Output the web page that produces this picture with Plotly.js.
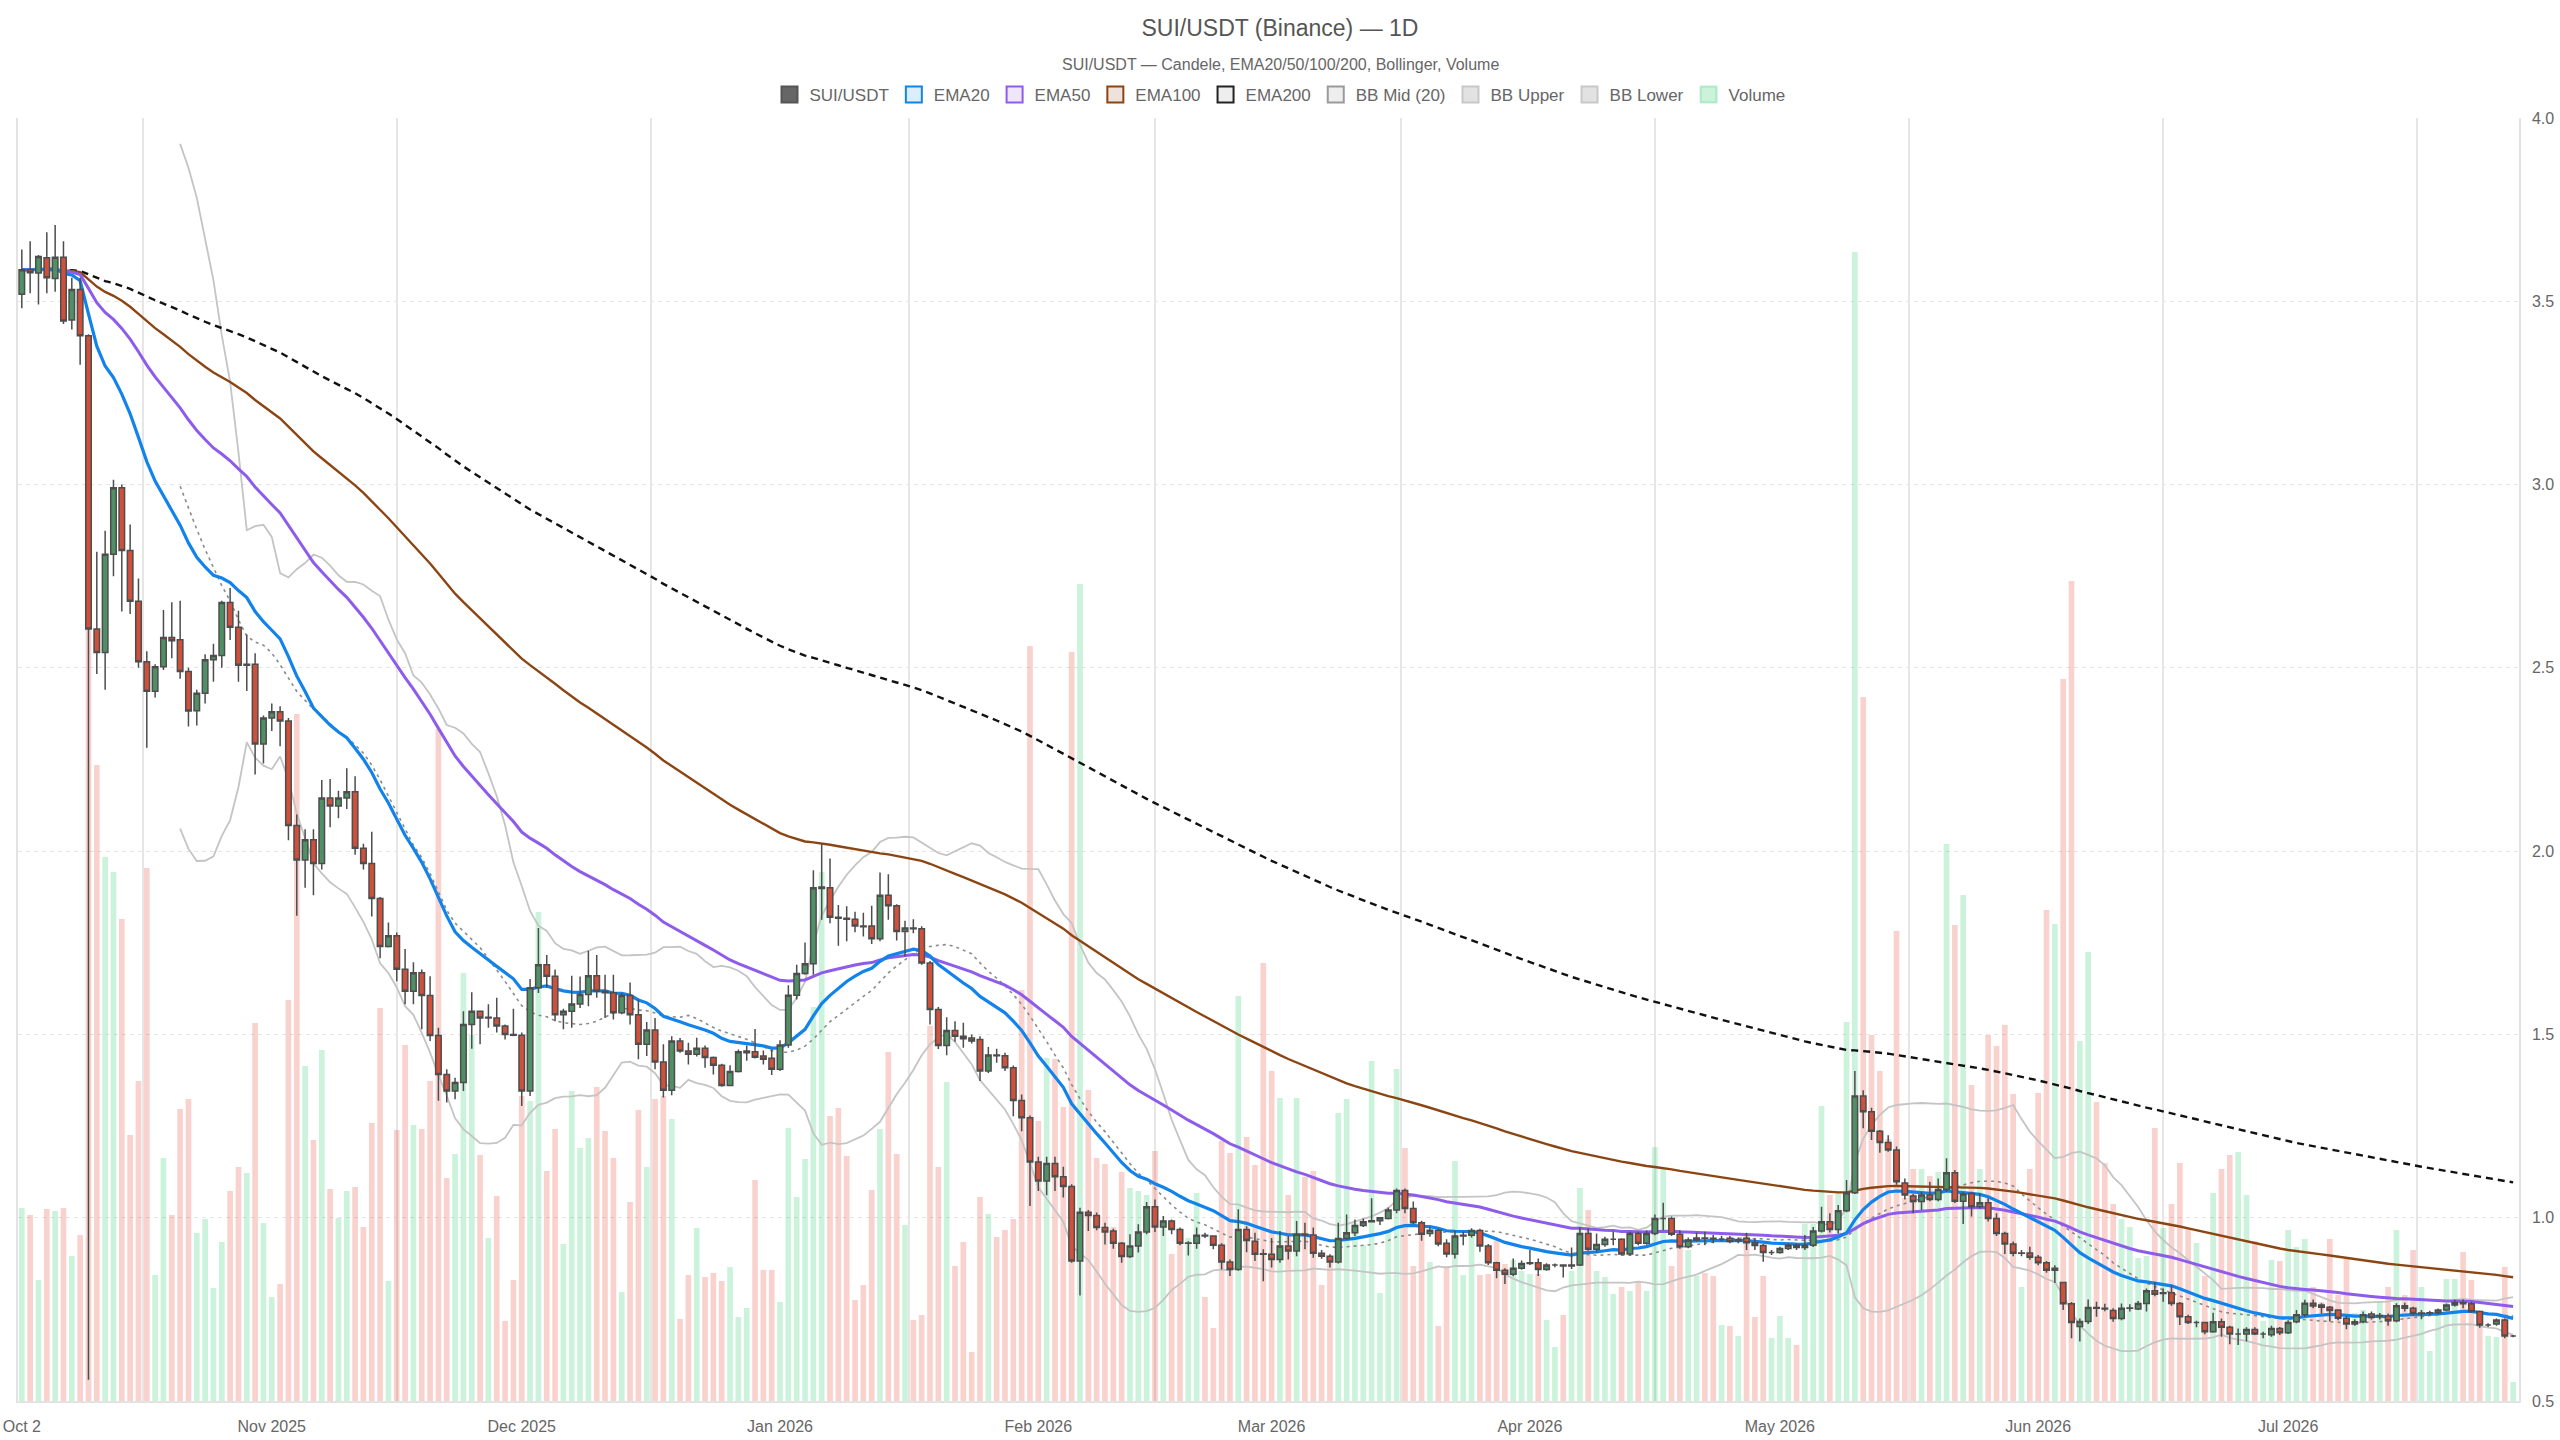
<!DOCTYPE html>
<html>
<head>
<meta charset="utf-8">
<script src="https://cdn.plot.ly/plotly-3.0.1.min.js"></script>
<style>
  html, body { margin: 0; padding: 0; background: #fff; }
  #chart { width: 2560px; height: 1440px; }
</style>
</head>
<body>
<div id="chart"></div>
<script>
// SUI/USDT daily candles, Oct 2 2025 -> Jul 28 2026
const START_DATE = "2025-10-02"

const OPEN = [
  3.519,3.586,3.577,3.619,3.562,3.620,3.449,3.532,3.406,2.606,
  2.542,2.810,2.991,2.820,2.682,2.517,2.436,2.503,2.583,2.577,
  2.490,2.383,2.431,2.522,2.534,2.678,2.611,2.507,2.510,2.292,
  2.363,2.380,2.355,2.070,1.976,2.031,1.966,2.145,2.123,2.145,
  2.162,2.008,1.966,1.871,1.740,1.769,1.678,1.618,1.668,1.606,
  1.497,1.391,1.346,1.369,1.527,1.563,1.545,1.545,1.523,1.500,
  1.498,1.346,1.627,1.690,1.659,1.554,1.563,1.583,1.609,1.660,
  1.618,1.614,1.559,1.606,1.554,1.473,1.512,1.425,1.348,1.482,
  1.455,1.446,1.462,1.437,1.416,1.361,1.399,1.450,1.453,1.441,
  1.435,1.405,1.471,1.607,1.666,1.693,1.898,1.900,1.820,1.817,
  1.814,1.796,1.796,1.761,1.880,1.851,1.781,1.790,1.788,1.695,
  1.568,1.470,1.511,1.495,1.490,1.486,1.400,1.444,1.442,1.409,
  1.320,1.273,1.152,1.100,1.148,1.112,1.085,0.882,1.015,1.006,
  0.973,0.964,0.930,0.894,0.923,0.961,1.030,0.975,0.991,0.968,
  0.930,0.930,0.952,0.950,0.925,0.879,0.859,0.968,0.936,0.902,
  0.900,0.886,0.923,0.909,0.955,0.953,0.903,0.895,0.879,0.943,
  0.959,0.979,0.989,0.992,0.998,1.021,1.074,1.025,0.986,0.957,
  0.966,0.930,0.901,0.950,0.952,0.965,0.923,0.877,0.857,0.846,
  0.862,0.875,0.877,0.859,0.871,0.871,0.868,0.871,0.957,0.914,
  0.927,0.941,0.941,0.901,0.957,0.930,0.957,0.998,0.998,0.955,
  0.921,0.939,0.945,0.944,0.942,0.944,0.937,0.944,0.932,0.924,
  0.905,0.905,0.916,0.925,0.919,0.925,0.964,0.989,0.968,1.019,
  1.068,1.332,1.289,1.236,1.205,1.185,1.095,1.059,1.044,1.062,
  1.050,1.077,1.123,1.045,1.066,1.030,1.041,0.998,0.957,0.928,
  0.903,0.904,0.892,0.877,0.857,0.823,0.765,0.703,0.717,0.755,
  0.753,0.747,0.725,0.753,0.751,0.766,0.801,0.793,0.795,0.766,
  0.730,0.714,0.714,0.689,0.716,0.701,0.683,0.683,0.695,0.683,
  0.681,0.698,0.686,0.716,0.735,0.767,0.762,0.756,0.748,0.726,
  0.710,0.716,0.737,0.732,0.732,0.719,0.760,0.753,0.739,0.740,
  0.741,0.748,0.762,0.769,0.765,0.744,0.707,0.710,0.721,0.677
]

const HIGH = [
  3.641,3.664,3.626,3.688,3.708,3.664,3.564,3.564,3.410,2.817,
  2.874,3.013,3.000,2.891,2.744,2.545,2.510,2.658,2.679,2.683,
  2.500,2.440,2.537,2.566,2.683,2.718,2.656,2.591,2.540,2.370,
  2.403,2.395,2.363,2.100,2.060,2.060,2.194,2.197,2.165,2.226,
  2.204,2.020,2.053,1.875,1.805,1.778,1.733,1.697,1.677,1.659,
  1.518,1.405,1.382,1.563,1.615,1.565,1.582,1.600,1.527,1.570,
  1.505,1.651,1.790,1.717,1.677,1.570,1.660,1.658,1.728,1.717,
  1.663,1.663,1.613,1.642,1.595,1.534,1.545,1.473,1.495,1.490,
  1.477,1.491,1.470,1.440,1.420,1.416,1.459,1.470,1.515,1.456,
  1.459,1.484,1.634,1.690,1.751,1.948,2.021,1.980,1.853,1.850,
  1.835,1.832,1.851,1.942,1.937,1.855,1.810,1.814,1.795,1.700,
  1.575,1.547,1.536,1.532,1.500,1.495,1.466,1.461,1.450,1.415,
  1.336,1.279,1.166,1.166,1.166,1.139,1.091,1.027,1.021,1.014,
  0.986,0.970,0.934,0.955,0.982,1.043,1.050,1.005,0.995,0.973,
  0.936,0.973,0.959,0.952,0.930,0.886,1.023,0.977,0.959,0.914,
  0.945,0.964,0.950,0.991,0.986,0.973,0.912,0.900,0.986,1.009,
  0.995,0.998,1.053,1.002,1.028,1.080,1.080,1.044,0.992,0.974,
  0.970,0.941,0.965,0.962,0.971,0.970,0.928,0.880,0.862,0.889,
  0.883,0.912,0.889,0.876,0.875,0.871,0.919,0.975,0.971,0.957,
  0.948,0.962,0.944,0.962,0.962,0.966,1.009,1.041,1.003,0.966,
  0.946,0.959,0.962,0.953,0.951,0.950,0.946,0.959,0.944,0.928,
  0.912,0.921,0.930,0.930,0.953,0.975,1.030,1.012,1.035,1.103,
  1.400,1.348,1.300,1.239,1.225,1.194,1.107,1.065,1.070,1.098,
  1.107,1.162,1.130,1.070,1.071,1.066,1.053,1.012,0.962,0.935,
  0.912,0.921,0.898,0.882,0.870,0.825,0.770,0.725,0.777,0.771,
  0.765,0.753,0.766,0.764,0.773,0.807,0.825,0.807,0.816,0.770,
  0.735,0.719,0.716,0.741,0.725,0.705,0.698,0.701,0.701,0.689,
  0.705,0.702,0.720,0.748,0.776,0.777,0.767,0.759,0.750,0.732,
  0.723,0.744,0.744,0.740,0.739,0.767,0.768,0.757,0.748,0.746,
  0.752,0.766,0.776,0.777,0.771,0.747,0.712,0.725,0.725,0.680
]

const LOW = [
  3.481,3.522,3.491,3.522,3.526,3.438,3.423,3.327,0.558,2.483,
  2.440,2.750,2.654,2.647,2.500,2.282,2.419,2.494,2.526,2.470,
  2.340,2.343,2.403,2.462,2.500,2.576,2.462,2.437,2.209,2.239,
  2.328,2.286,2.030,1.824,1.900,1.880,1.950,2.065,2.090,2.115,
  1.990,1.950,1.822,1.708,1.737,1.645,1.582,1.582,1.514,1.482,
  1.319,1.314,1.323,1.346,1.461,1.473,1.518,1.505,1.486,1.495,
  1.305,1.332,1.613,1.627,1.536,1.514,1.518,1.572,1.577,1.600,
  1.545,1.541,1.555,1.527,1.432,1.441,1.405,1.328,1.334,1.450,
  1.418,1.440,1.409,1.391,1.357,1.359,1.396,1.428,1.434,1.418,
  1.389,1.400,1.464,1.595,1.663,1.663,1.813,1.803,1.742,1.754,
  1.779,1.767,1.747,1.754,1.813,1.756,1.713,1.776,1.690,1.527,
  1.460,1.443,1.480,1.464,1.475,1.373,1.395,1.423,1.400,1.277,
  1.236,1.032,1.073,1.061,1.073,1.055,0.877,0.788,0.964,0.966,
  0.927,0.915,0.877,0.890,0.905,0.955,0.961,0.950,0.955,0.925,
  0.897,0.915,0.945,0.914,0.859,0.841,0.855,0.906,0.882,0.827,
  0.864,0.877,0.886,0.895,0.914,0.891,0.888,0.864,0.875,0.940,
  0.950,0.975,0.987,0.980,0.995,1.012,1.012,0.982,0.937,0.948,
  0.922,0.892,0.889,0.925,0.946,0.907,0.871,0.835,0.819,0.840,
  0.858,0.871,0.841,0.855,0.865,0.837,0.860,0.868,0.910,0.905,
  0.921,0.925,0.897,0.897,0.925,0.926,0.952,0.966,0.950,0.915,
  0.917,0.935,0.925,0.930,0.935,0.930,0.930,0.912,0.912,0.880,
  0.898,0.902,0.912,0.912,0.912,0.920,0.960,0.960,0.957,1.015,
  1.065,1.244,1.212,1.177,1.180,1.090,1.050,1.012,1.021,1.045,
  1.045,1.070,1.040,0.983,1.003,1.025,0.990,0.950,0.901,0.895,
  0.895,0.885,0.870,0.850,0.822,0.748,0.671,0.662,0.710,0.730,
  0.745,0.716,0.720,0.744,0.748,0.744,0.786,0.771,0.760,0.707,
  0.710,0.701,0.682,0.686,0.675,0.655,0.653,0.662,0.680,0.671,
  0.675,0.680,0.683,0.712,0.730,0.753,0.739,0.717,0.720,0.696,
  0.705,0.712,0.722,0.722,0.705,0.715,0.744,0.733,0.723,0.734,
  0.736,0.745,0.758,0.753,0.740,0.700,0.702,0.705,0.671,0.674
]

const CLOSE = [
  3.586,3.578,3.622,3.564,3.620,3.446,3.532,3.406,2.606,2.542,
  2.810,2.991,2.820,2.682,2.517,2.436,2.503,2.583,2.574,2.490,
  2.382,2.431,2.522,2.534,2.678,2.611,2.507,2.510,2.292,2.363,
  2.380,2.355,2.070,1.976,2.031,1.966,2.145,2.123,2.145,2.162,
  2.008,1.966,1.871,1.740,1.769,1.678,1.618,1.668,1.606,1.497,
  1.391,1.346,1.369,1.527,1.563,1.545,1.547,1.523,1.500,1.498,
  1.346,1.627,1.690,1.659,1.554,1.563,1.583,1.609,1.660,1.618,
  1.614,1.559,1.606,1.554,1.473,1.512,1.425,1.348,1.482,1.455,
  1.446,1.462,1.437,1.416,1.361,1.399,1.453,1.455,1.438,1.432,
  1.405,1.471,1.607,1.666,1.693,1.900,1.902,1.820,1.817,1.814,
  1.796,1.794,1.761,1.880,1.851,1.781,1.790,1.788,1.695,1.568,
  1.470,1.511,1.495,1.488,1.482,1.400,1.444,1.442,1.409,1.320,
  1.273,1.152,1.100,1.148,1.112,1.085,0.882,1.015,1.006,0.973,
  0.961,0.930,0.894,0.923,0.961,1.030,0.975,0.991,0.968,0.930,
  0.931,0.952,0.950,0.925,0.879,0.859,0.968,0.938,0.900,0.900,
  0.886,0.923,0.909,0.955,0.953,0.903,0.895,0.879,0.943,0.959,
  0.979,0.989,0.992,1.000,1.021,1.074,1.025,0.986,0.955,0.966,
  0.928,0.901,0.950,0.952,0.965,0.923,0.877,0.857,0.846,0.862,
  0.875,0.877,0.859,0.871,0.871,0.868,0.871,0.957,0.914,0.927,
  0.941,0.941,0.901,0.957,0.930,0.957,0.998,0.998,0.955,0.921,
  0.939,0.945,0.944,0.942,0.942,0.935,0.940,0.932,0.924,0.905,
  0.905,0.916,0.925,0.919,0.925,0.964,0.989,0.968,1.019,1.068,
  1.332,1.289,1.236,1.205,1.185,1.098,1.062,1.044,1.062,1.050,
  1.077,1.123,1.045,1.065,1.030,1.041,0.998,0.957,0.928,0.903,
  0.904,0.892,0.877,0.857,0.862,0.765,0.714,0.717,0.755,0.753,
  0.751,0.725,0.753,0.754,0.766,0.801,0.791,0.795,0.766,0.730,
  0.714,0.714,0.689,0.716,0.701,0.683,0.683,0.695,0.683,0.683,
  0.698,0.686,0.714,0.735,0.767,0.759,0.756,0.747,0.726,0.710,
  0.716,0.735,0.728,0.733,0.719,0.760,0.753,0.739,0.740,0.741,
  0.748,0.762,0.769,0.765,0.744,0.707,0.707,0.721,0.677,0.677
]

// daily volume, 100k SUI
const VOLUME = [
  193,186,121,192,190,193,145,166,990,636,
  544,529,482,266,320,533,126,243,186,292,
  302,168,182,113,159,210,234,228,378,178,
  104,117,401,687,335,261,351,212,183,210,
  214,174,278,393,120,271,356,276,272,320,
  672,223,247,428,366,246,163,205,80,121,
  305,300,489,230,272,157,310,253,263,314,
  270,243,109,199,291,234,302,305,282,82,
  126,173,124,128,120,134,84,93,221,131,
  131,99,273,204,242,394,529,285,293,245,
  101,116,211,272,349,247,176,81,86,375,
  234,319,135,159,49,204,187,164,171,182,
  411,755,280,343,342,294,749,817,311,243,
  237,174,229,213,210,206,250,181,147,159,
  163,208,104,73,260,248,405,264,236,438,
  330,303,206,303,224,230,116,140,288,302,
  178,156,340,108,170,332,253,135,167,139,
  75,135,240,126,170,126,127,162,137,141,
  130,127,127,81,54,86,130,213,191,130,
  124,107,114,110,119,110,254,233,135,161,
  151,125,128,125,76,75,65,166,84,125,
  63,85,63,56,177,177,295,206,210,379,
  1149,704,366,330,262,470,203,232,232,225,
  229,557,476,506,316,232,366,355,376,307,
  114,232,308,491,477,722,820,360,449,299,
  238,197,182,174,143,145,273,173,197,238,
  173,158,125,208,232,246,249,206,160,80,
  141,140,171,154,162,114,99,162,106,142,
  88,91,84,99,114,171,106,151,114,50,
  88,122,122,149,121,86,65,64,134,19
]

const TICK_DATES = ["2025-10-02","2025-11-01","2025-12-01","2026-01-01","2026-02-01",
  "2026-03-01","2026-04-01","2026-05-01","2026-06-01","2026-07-01"]
const TICK_TEXT = ["Oct 2","Nov 2025","Dec 2025","Jan 2026","Feb 2026",
  "Mar 2026","Apr 2026","May 2026","Jun 2026","Jul 2026"]
// grid sits half way between the month ticks
const GRID_DATES = ["2025-10-16 12:00","2025-11-16","2025-12-16 12:00","2026-01-16 12:00",
  "2026-02-15","2026-03-16 12:00","2026-04-16","2026-05-16 12:00","2026-06-16","2026-07-16 12:00"]

const dates = CLOSE.map((_, i) => {
    const d = new Date(START_DATE + "T00:00:00Z")
    d.setUTCDate(d.getUTCDate() + i)
    return d.toISOString().slice(0, 10)
})

function ema(src, n) {
    const k = 2 / (n + 1)
    const out = []
    let prev = src[0]
    src.forEach((v, i) => {
        prev = i === 0 ? v : v * k + prev * (1 - k)
        out.push(prev)
    })
    return out
}

function bollinger(src, n, mult) {
    const mid = [], up = [], lo = []
    src.forEach((_, i) => {
        if (i < n - 1) { mid.push(null); up.push(null); lo.push(null); return }
        const w = src.slice(i - n + 1, i + 1)
        const m = w.reduce((a, b) => a + b, 0) / n
        const sd = Math.sqrt(w.reduce((a, b) => a + (b - m) * (b - m), 0) / n)
        mid.push(m); up.push(m + mult * sd); lo.push(m - mult * sd)
    })
    return { mid, up, lo }
}

const bb = bollinger(CLOSE, 20, 2)

const UP = "#4f9165", DOWN = "#d0503b", EDGE = "#4d4d4d"
const volColors = CLOSE.map((c, i) => c >= OPEN[i] ? "rgba(46,204,113,0.25)" : "rgba(231,76,60,0.25)")

const line = (name, y, color, width, dash, group) => ({
    type: "scatter", mode: "lines", x: dates, y: y, name: name,
    line: { color: color, width: width, dash: dash || "solid" },
    xaxis: "x", yaxis: "y2", hoverinfo: "skip", showlegend: false, legendgroup: group
})

// legend swatches (boxes like the reference)
const swatch = (name, fill, edge, group) => ({
    type: "scatter", mode: "markers", x: [null], y: [null], name: name, legendgroup: group,
    marker: { symbol: "square", size: 16, color: fill, line: { color: edge, width: 2 } },
    xaxis: "x", yaxis: "y", hoverinfo: "skip"
})

const traceVolume = {
    type: "bar", x: dates, y: VOLUME, name: "Volume",
    marker: { color: volColors, line: { width: 0 } },
    xaxis: "x", yaxis: "y", hoverinfo: "skip", showlegend: false, legendgroup: "vol"
}

const traceCandles = {
    type: "candlestick", x: dates, open: OPEN, high: HIGH, low: LOW, close: CLOSE,
    name: "SUI/USDT", xaxis: "x", yaxis: "y3", showlegend: false, legendgroup: "c",
    increasing: { fillcolor: UP, line: { color: EDGE, width: 1.5 } },
    decreasing: { fillcolor: DOWN, line: { color: EDGE, width: 1.5 } },
    whiskerwidth: 0, hoverinfo: "skip"
}

const data = [
    traceVolume,
    line("BB Upper", bb.up, "#c4c4c4", 1.8, "solid", "bbu"),
    line("BB Lower", bb.lo, "#c4c4c4", 1.8, "solid", "bbl"),
    line("BB Mid (20)", bb.mid, "#8a8a8a", 1.6, "3px,4px", "bbm"),
    line("EMA200", ema(CLOSE, 200), "#111111", 2.4, "7px,5px", "e200"),
    line("EMA100", ema(CLOSE, 100), "#8b4513", 2.4, "solid", "e100"),
    line("EMA50", ema(CLOSE, 50), "#8e5cea", 3, "solid", "e50"),
    line("EMA20", ema(CLOSE, 20), "#1283ea", 3.2, "solid", "e20"),
    traceCandles,
    swatch("SUI/USDT", "#666666", "#555555", "c"),
    swatch("EMA20", "rgba(18,131,234,0.15)", "#1283ea", "e20"),
    swatch("EMA50", "rgba(142,92,234,0.15)", "#8e5cea", "e50"),
    swatch("EMA100", "rgba(139,69,19,0.15)", "#8b4513", "e100"),
    swatch("EMA200", "#eeeeee", "#222222", "e200"),
    swatch("BB Mid (20)", "#eeeeee", "#9a9a9a", "bbm"),
    swatch("BB Upper", "#e2e2e2", "#c8c8c8", "bbu"),
    swatch("BB Lower", "#e2e2e2", "#c8c8c8", "bbl"),
    swatch("Volume", "rgba(46,204,113,0.25)", "rgba(46,204,113,0.3)", "vol")
]

const W = 2560, H = 1440
const M = { l: 18, r: 41, t: 118, b: 39 }
const plotH = H - M.t - M.b
const cx = (W / 2 - M.l) / (W - M.l - M.r)   // canvas centre in paper units

const FONT = "Liberation Sans, Arial, Helvetica, sans-serif"

const layout = {
    width: W, height: H,
    margin: M,
    paper_bgcolor: "#ffffff", plot_bgcolor: "#ffffff",
    font: { family: FONT, size: 16, color: "#666666" },
    title: {
        text: "SUI/USDT (Binance) — 1D",
        x: 0.5, xanchor: "center", xref: "container",
        y: 1 - 28 / H, yanchor: "middle", yref: "container",
        font: { family: FONT, size: 23, color: "#555555" }
    },
    annotations: [{
        text: "SUI/USDT — Candele, EMA20/50/100/200, Bollinger, Volume",
        xref: "paper", yref: "paper", x: cx, y: (H - M.b - 65) / plotH,
        xanchor: "center", yanchor: "middle", showarrow: false,
        font: { family: FONT, size: 16, color: "#666666" }
    }],
    showlegend: true,
    legend: {
        orientation: "h", x: cx, xanchor: "center",
        y: (H - M.b - 95) / plotH, yanchor: "middle",
        font: { family: FONT, size: 17, color: "#666666" },
        bgcolor: "rgba(0,0,0,0)", itemclick: "toggle"
    },
    barmode: "overlay",
    bargap: 0.32,
    boxgap: 0.15,
    boxgroupgap: 0.22,
    hovermode: false,
    xaxis: {
        type: "date",
        range: ["2025-10-01 13:00", "2026-07-28 17:00"],
        tickmode: "array", tickvals: TICK_DATES, ticktext: TICK_TEXT,
        ticks: "", showgrid: false, zeroline: false,
        showline: true, linecolor: "#e3e3e3", linewidth: 1.5,
        tickfont: { size: 16, color: "#666666" }, ticklabelstandoff: 10,
        rangeslider: { visible: false },
        minor: { tickmode: "array", tickvals: GRID_DATES, showgrid: true,
                 gridcolor: "#e6e6e6", gridwidth: 1.5, ticks: "" },
        automargin: false, fixedrange: true
    },
    yaxis: {
        range: [0, plotH], visible: true, showticklabels: false, ticks: "",
        showgrid: false, zeroline: false,
        showline: true, linecolor: "#e3e3e3", linewidth: 1.5,
        automargin: false, fixedrange: true
    },
    yaxis2: {
        overlaying: "y", side: "right", range: [0.5, 4.0],
        tickmode: "linear", tick0: 0.5, dtick: 0.5, tickformat: ".1f",
        ticks: "", showgrid: true, gridcolor: "#e6e6e6", gridwidth: 1.2, griddash: "4px,4px",
        zeroline: false, showline: true, linecolor: "#e3e3e3", linewidth: 1.5,
        tickfont: { size: 16, color: "#666666" }, ticklabelstandoff: 8,
        automargin: false, fixedrange: true
    },
    yaxis3: {
        overlaying: "y", side: "right", range: [0.5, 4.0], visible: false,
        showgrid: false, zeroline: false, fixedrange: true
    }
}

Plotly.newPlot("chart", data, layout, { displayModeBar: false, responsive: false })
</script>
</body>
</html>
